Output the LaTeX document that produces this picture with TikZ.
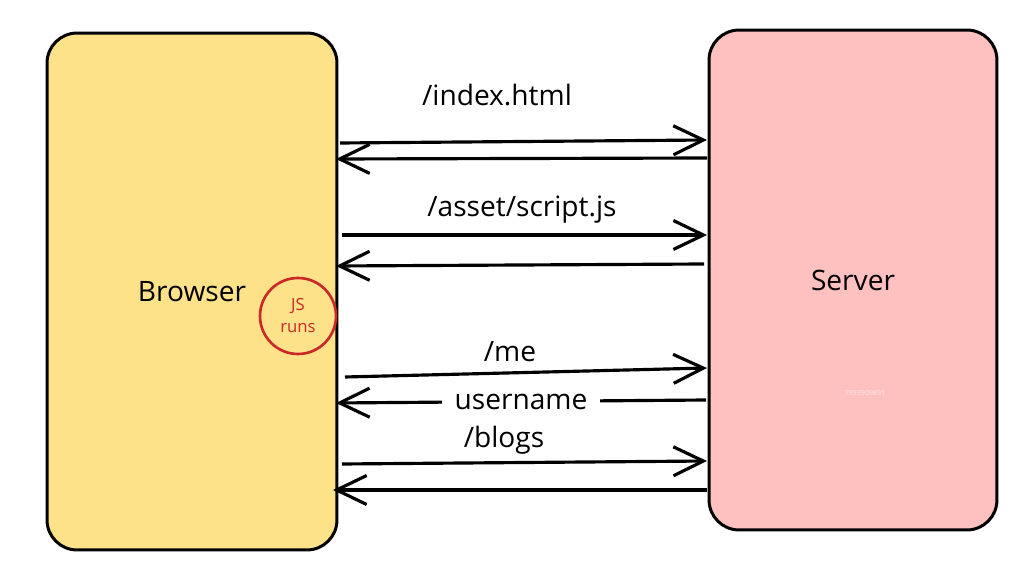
\documentclass[tikz,border=0pt]{standalone}
\usepackage{fontspec}
\setmainfont{Open Sans}
\usetikzlibrary{arrows.meta}
\definecolor{browseryellow}{RGB}{253,226,138}
\definecolor{serverpink}{RGB}{255,192,192}
\definecolor{jsred}{RGB}{204,40,40}

\begin{document}
\begin{tikzpicture}[x=0.02cm,y=-0.02cm,
    box/.style={draw=black,line width=1.7pt,rounded corners=0.6cm},
    msg/.style={line width=1.8pt,-{Straight Barb[length=0.6cm,width=0.58cm]}},
    lbl/.style={font=\fontsize{16}{19}\selectfont}]
    \useasboundingbox[fill=white] (0,0) rectangle (1025,567);
    \node[box,fill=browseryellow,minimum width=5.8cm,minimum height=10.34cm,lbl] (browser) at (192,291.5) {Browser};
    \node[box,fill=serverpink,minimum width=5.76cm,minimum height=10cm,lbl] (server) at (853,280) {Server};
    \node[circle,draw=jsred,line width=1.5pt,text=jsred,align=center,minimum size=1.52cm,font=\fontsize{9.5}{12.5}\selectfont] (jsruns) at (298,316) {JS\\runs};
    \node[text=serverpink!40!white,font=\fontsize{4}{5}\selectfont] (mark) at (865,393) {7893909891};

    \coordinate (b1) at (340,143); \coordinate (s1) at (707,140);
    \coordinate (s2) at (707,158); \coordinate (b2) at (336,159);
    \coordinate (b3) at (342,235); \coordinate (s3) at (707,235);
    \coordinate (s4) at (704,264); \coordinate (b4) at (336,266);
    \coordinate (b5) at (345,377); \coordinate (s5) at (707,368);
    \coordinate (s6) at (706,400); \coordinate (b6) at (336,403);
    \coordinate (b7) at (342,464); \coordinate (s7) at (707,461);
    \coordinate (s8) at (707,490); \coordinate (b8) at (333,490);

    \draw[msg] (b1) -- (s1);
    \draw[msg] (s2) -- (b2);
    \draw[msg] (b3) -- (s3);
    \draw[msg] (s4) -- (b4);
    \draw[msg] (b5) -- (s5);
    \draw[msg] (s6) -- node[lbl,fill=white,inner xsep=7pt,inner ysep=1pt] (username) {username} (b6);
    \draw[msg] (b7) -- (s7);
    \draw[msg] (s8) -- (b8);

    \node[lbl] (index) at (497,95) {/index.html};
    \node[lbl] (asset) at (522,210) {/asset/script.js};
    \node[lbl] (me) at (510,352) {/me};
    \node[lbl] (blogs) at (504,440) {/blogs};
\end{tikzpicture}
\end{document}
